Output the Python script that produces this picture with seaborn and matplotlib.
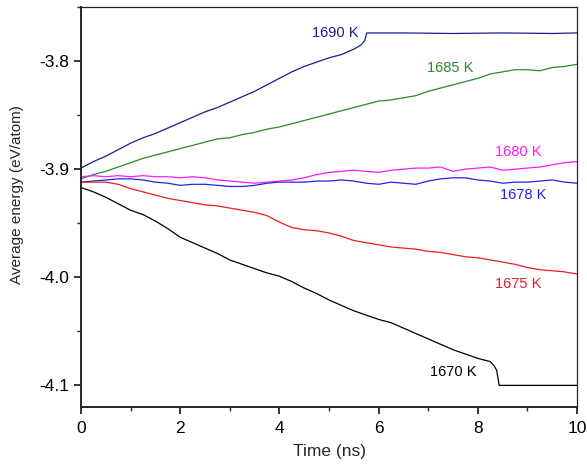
import matplotlib
matplotlib.use("Agg")
import matplotlib.pyplot as plt
from matplotlib.ticker import MultipleLocator, FormatStrFormatter
import seaborn as sns
import pandas as pd

grid = [0.0, 0.25, 0.5, 0.75, 1.0, 1.25, 1.5, 1.75, 2.0, 2.25, 2.5, 2.75, 3.0, 3.25,
        3.5, 3.75, 4.0, 4.25, 4.5, 4.75, 5.0, 5.25, 5.5, 5.75, 6.0, 6.25, 6.5, 6.75,
        7.0, 7.25, 7.5, 7.75, 8.0, 8.25, 8.5, 8.75, 9.0, 9.25, 9.5, 9.75, 10.0]

t_1690 = [0.0, 0.25, 0.5, 0.75, 1.0, 1.25, 1.5, 1.75, 2.0, 2.25, 2.5, 2.75, 3.0, 3.25,
          3.5, 3.75, 4.0, 4.25, 4.5, 4.75, 5.0, 5.25, 5.5, 5.65, 5.72, 5.76, 6.5, 7.5,
          8.5, 9.5, 10.0]
e_1690 = [-3.899, -3.893, -3.888, -3.882, -3.876, -3.871, -3.867, -3.862, -3.857, -3.852,
          -3.847, -3.843, -3.838, -3.833, -3.828, -3.822, -3.816, -3.810, -3.805, -3.801,
          -3.797, -3.794, -3.789, -3.785, -3.781, -3.774, -3.774, -3.7745, -3.774,
          -3.7745, -3.774]

t_1685 = grid
e_1685 = [-3.909, -3.905, -3.902, -3.898, -3.894, -3.890, -3.887, -3.884, -3.881, -3.878,
          -3.875, -3.872, -3.871, -3.868, -3.866, -3.863, -3.861, -3.858, -3.855, -3.852,
          -3.849, -3.846, -3.843, -3.840, -3.837, -3.836, -3.834, -3.832, -3.828, -3.825,
          -3.822, -3.819, -3.816, -3.812, -3.810, -3.808, -3.808, -3.809, -3.806, -3.805,
          -3.803]

t_1680 = grid
e_1680 = [-3.907, -3.906, -3.907, -3.906, -3.907, -3.906, -3.907, -3.907, -3.908, -3.907,
          -3.908, -3.910, -3.911, -3.912, -3.913, -3.912, -3.911, -3.910, -3.908, -3.905,
          -3.903, -3.902, -3.901, -3.902, -3.903, -3.901, -3.900, -3.899, -3.899, -3.898,
          -3.902, -3.900, -3.899, -3.898, -3.901, -3.900, -3.899, -3.898, -3.896, -3.894,
          -3.893]

t_1678 = grid
e_1678 = [-3.912, -3.911, -3.910, -3.909, -3.909, -3.910, -3.912, -3.913, -3.915, -3.914,
          -3.914, -3.915, -3.916, -3.916, -3.915, -3.913, -3.912, -3.912, -3.912, -3.911,
          -3.911, -3.910, -3.911, -3.913, -3.914, -3.912, -3.913, -3.914, -3.911, -3.909,
          -3.908, -3.908, -3.910, -3.911, -3.913, -3.912, -3.912, -3.911, -3.910, -3.912,
          -3.913]

t_1675 = grid
e_1675 = [-3.912, -3.912, -3.912, -3.914, -3.918, -3.921, -3.924, -3.927, -3.929, -3.931,
          -3.933, -3.934, -3.936, -3.938, -3.940, -3.943, -3.949, -3.954, -3.956, -3.957,
          -3.959, -3.962, -3.966, -3.968, -3.970, -3.972, -3.973, -3.974, -3.976, -3.977,
          -3.979, -3.981, -3.982, -3.984, -3.986, -3.988, -3.991, -3.993, -3.994, -3.995,
          -3.997]

t_1670 = [0.0, 0.25, 0.5, 0.75, 1.0, 1.25, 1.5, 1.75, 2.0, 2.25, 2.5, 2.75, 3.0, 3.25,
          3.5, 3.75, 4.0, 4.25, 4.5, 4.75, 5.0, 5.25, 5.5, 5.75, 6.0, 6.25, 6.5, 6.75,
          7.0, 7.25, 7.5, 7.75, 8.0, 8.25, 8.33, 8.38, 8.43, 9.0, 10.0]
e_1670 = [-3.917, -3.921, -3.926, -3.932, -3.938, -3.942, -3.948, -3.955, -3.963, -3.968,
          -3.973, -3.978, -3.984, -3.988, -3.992, -3.996, -3.999, -4.004, -4.010, -4.015,
          -4.021, -4.026, -4.031, -4.035, -4.039, -4.042, -4.047, -4.052, -4.057, -4.062,
          -4.067, -4.071, -4.075, -4.078, -4.082, -4.086, -4.100, -4.100, -4.100]

series_names = ["1690 K", "1685 K", "1680 K", "1678 K", "1675 K", "1670 K"]
series_t = [t_1690, t_1685, t_1680, t_1678, t_1675, t_1670]
series_e = [e_1690, e_1685, e_1680, e_1678, e_1675, e_1670]
colors = ["#1c1c8e", "#2a8a2a", "#ff1aff", "#2323e6", "#ee1c24", "#000000"]
label_pos = [(5.12, -3.774), (7.44, -3.8065), (8.81, -3.884), (8.91, -3.924),
             (8.81, -4.006), (7.50, -4.088)]

frames = []
for name, t, e in zip(series_names, series_t, series_e):
    frames.append(pd.DataFrame({"time": t, "energy": e, "T": name}))
df = pd.concat(frames, ignore_index=True)

sns.set_style("ticks")
plt.rcParams["font.family"] = ["Liberation Sans", "DejaVu Sans"]

fig = plt.figure(figsize=(5.87, 4.66), dpi=100)
ax = fig.add_axes([0.138, 0.1266, 0.845, 0.8584])

sns.lineplot(data=df, x="time", y="energy", hue="T", palette=dict(zip(series_names, colors)),
             estimator=None, sort=False, linewidth=0.9, legend=False, ax=ax)

for name, (x, y), c in zip(series_names, label_pos, colors):
    ax.text(x, y, name, color=c, fontsize=10.5, ha="center", va="center")

ax.set_xlim(0, 10)
ax.set_ylim(-4.12, -3.75)
ax.xaxis.set_major_locator(MultipleLocator(2))
ax.xaxis.set_minor_locator(MultipleLocator(1))
ax.yaxis.set_major_locator(MultipleLocator(0.1))
ax.yaxis.set_minor_locator(MultipleLocator(0.05))
ax.yaxis.set_major_formatter(FormatStrFormatter("%.1f"))
ax.tick_params(which="major", direction="out", length=5, width=1.1, labelsize=12.5,
               colors="black")
ax.tick_params(axis="x", which="major", pad=5)
ax.tick_params(which="minor", direction="out", length=3, width=1.0)
for side in ["left", "bottom"]:
    ax.spines[side].set_linewidth(1.4)
for side in ["top", "right"]:
    ax.spines[side].set_linewidth(0.9)
    ax.spines[side].set_visible(True)

ax.set_xlabel("Time (ns)", fontsize=12.5, labelpad=6)
ax.set_ylabel("Average energy (eV/atom)", fontsize=11)
ax.yaxis.set_label_coords(-0.115, 0.53)

fig.savefig("out.png", dpi=100)
